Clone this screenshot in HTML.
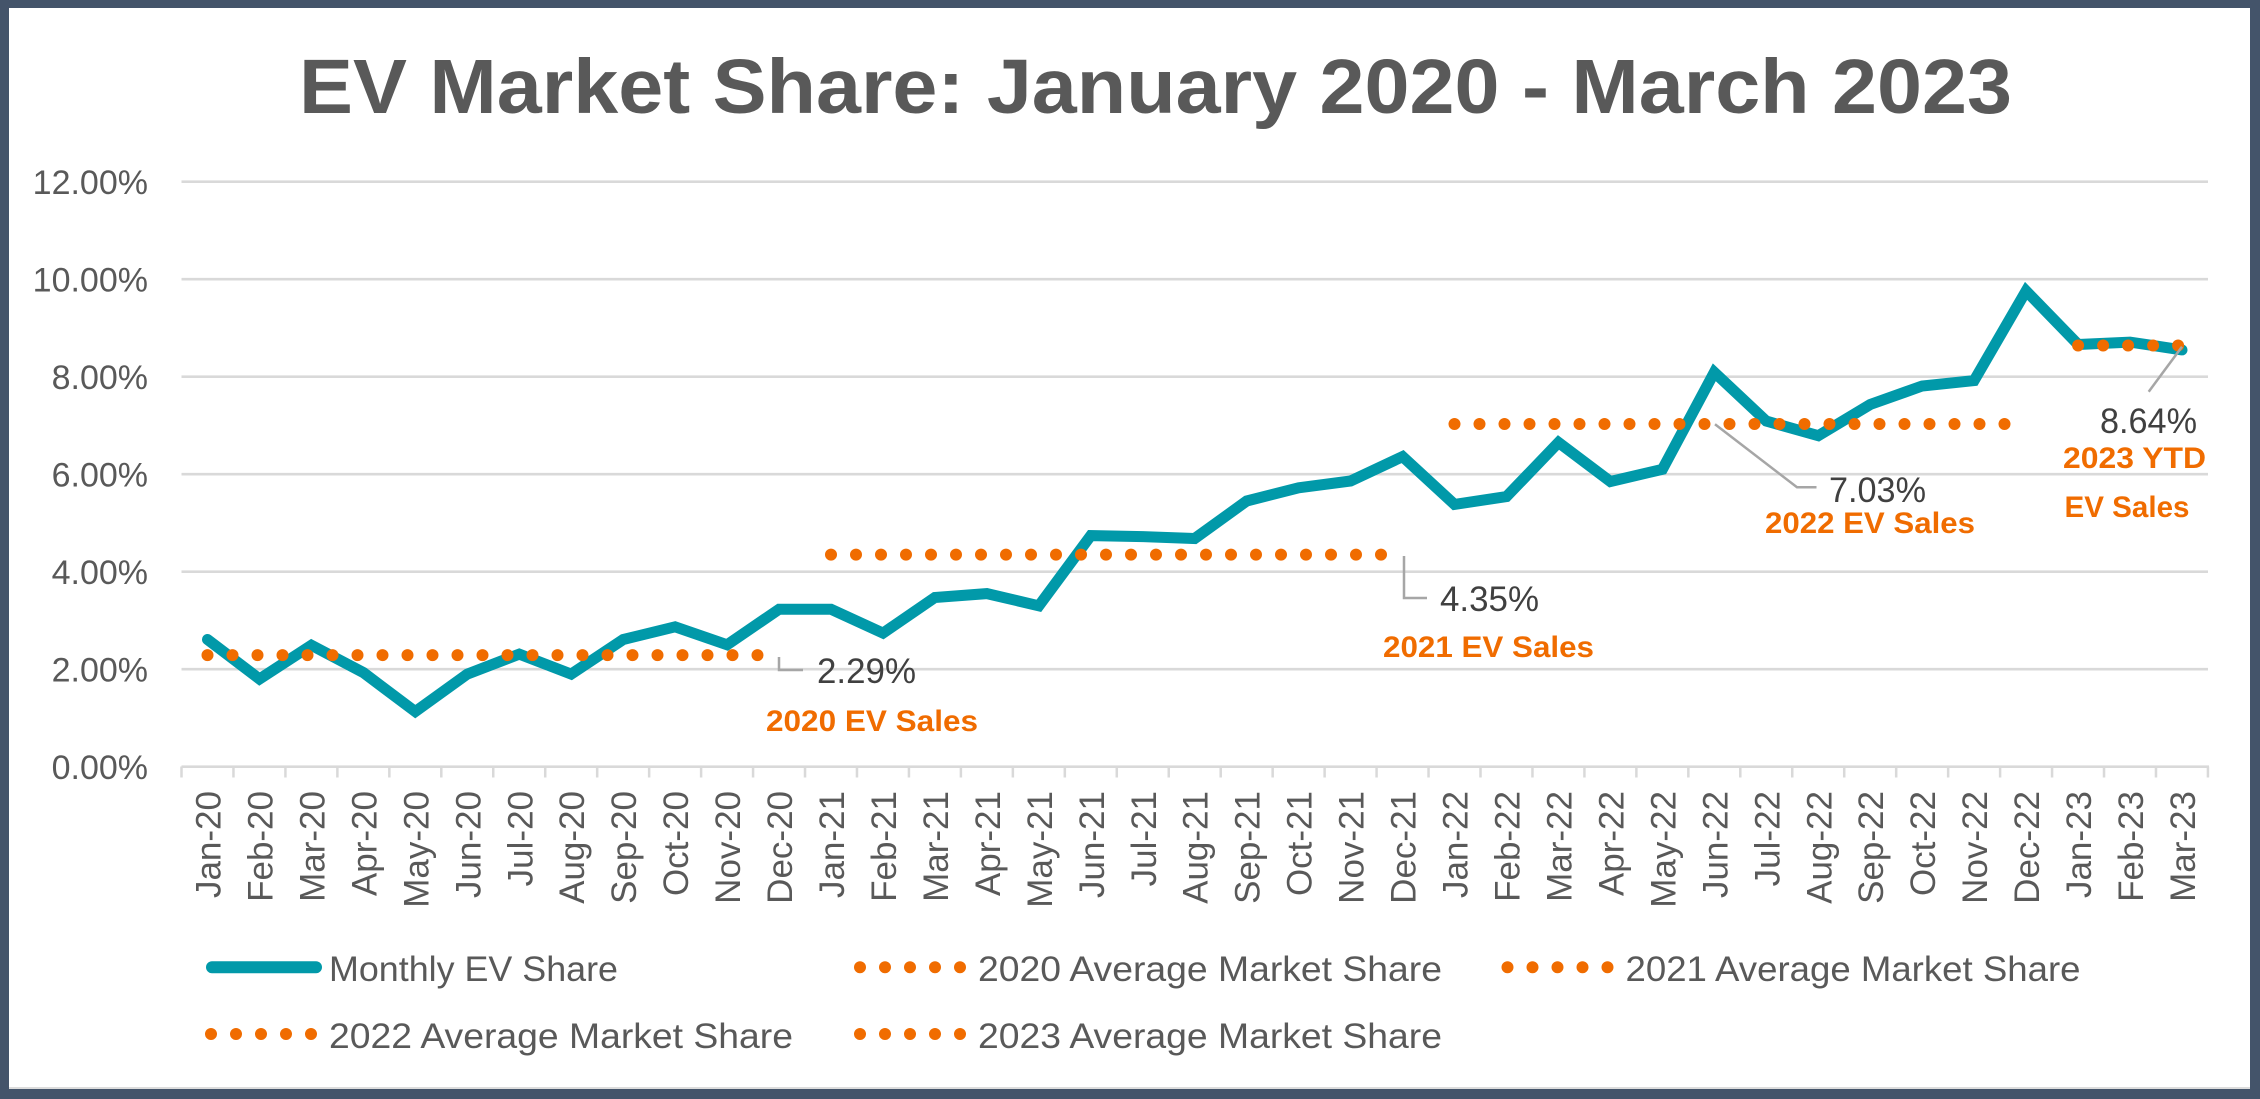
<!DOCTYPE html>
<html>
<head>
<meta charset="utf-8">
<style>
  html,body{margin:0;padding:0;background:#fff;}
  svg{display:block;}
  .ax{font-family:"Liberation Sans",Arial,sans-serif;font-size:35px;fill:#595959;}
  .yl{font-family:"Liberation Sans",Arial,sans-serif;font-size:34px;fill:#595959;}
  .val{font-family:"Liberation Sans",Arial,sans-serif;font-size:35px;fill:#404040;}
  .ann{font-family:"Liberation Sans",Arial,sans-serif;font-size:30px;font-weight:bold;fill:#F06C00;}
  .lg{font-family:"Liberation Sans",Arial,sans-serif;font-size:35px;fill:#595959;}
</style>
</head>
<body>
<svg width="2260" height="1099" viewBox="0 0 2260 1099" xmlns="http://www.w3.org/2000/svg">
  <rect x="0" y="0" width="2260" height="1099" fill="#44546A"/>
  <rect x="9" y="8" width="2241" height="1081" fill="#ffffff"/>
  <line x1="9" y1="1088" x2="2250" y2="1088" stroke="#d0d0d0" stroke-width="1.5"/>

  <!-- Title -->
  <text x="299" y="113" font-family="Liberation Sans, Arial, sans-serif" font-weight="bold" font-size="77" fill="#595959" textLength="1713" lengthAdjust="spacingAndGlyphs">EV Market Share: January 2020 - March 2023</text>

  <!-- Gridlines -->
  <g stroke="#D9D9D9" stroke-width="2.7">
    <line x1="181.5" y1="181.7" x2="2208" y2="181.7"/>
    <line x1="181.5" y1="279.2" x2="2208" y2="279.2"/>
    <line x1="181.5" y1="376.7" x2="2208" y2="376.7"/>
    <line x1="181.5" y1="474.2" x2="2208" y2="474.2"/>
    <line x1="181.5" y1="571.7" x2="2208" y2="571.7"/>
    <line x1="181.5" y1="669.2" x2="2208" y2="669.2"/>
    <line x1="181.5" y1="766.7" x2="2209" y2="766.7"/>
  </g>
  <!-- ticks -->
  <line x1="180.25" y1="772" x2="2210" y2="772" stroke="#D9D9D9" stroke-width="11" stroke-dasharray="2.5 49.46"/>

  <!-- Y labels -->
  <g class="yl" text-anchor="end">
    <text x="148" y="194">12.00%</text>
    <text x="148" y="291.5">10.00%</text>
    <text x="148" y="389">8.00%</text>
    <text x="148" y="486.5">6.00%</text>
    <text x="148" y="584">4.00%</text>
    <text x="148" y="681.5">2.00%</text>
    <text x="148" y="779">0.00%</text>
  </g>

  <!-- X labels -->
  <g class="ax" text-anchor="end">
    <text transform="translate(220.5,791) rotate(-90)">Jan-20</text>
    <text transform="translate(272.5,791) rotate(-90)">Feb-20</text>
    <text transform="translate(324.4,791) rotate(-90)">Mar-20</text>
    <text transform="translate(376.4,791) rotate(-90)">Apr-20</text>
    <text transform="translate(428.3,791) rotate(-90)">May-20</text>
    <text transform="translate(480.3,791) rotate(-90)">Jun-20</text>
    <text transform="translate(532.3,791) rotate(-90)">Jul-20</text>
    <text transform="translate(584.2,791) rotate(-90)">Aug-20</text>
    <text transform="translate(636.2,791) rotate(-90)">Sep-20</text>
    <text transform="translate(688.1,791) rotate(-90)">Oct-20</text>
    <text transform="translate(740.1,791) rotate(-90)">Nov-20</text>
    <text transform="translate(792.1,791) rotate(-90)">Dec-20</text>
    <text transform="translate(844.0,791) rotate(-90)">Jan-21</text>
    <text transform="translate(896.0,791) rotate(-90)">Feb-21</text>
    <text transform="translate(947.9,791) rotate(-90)">Mar-21</text>
    <text transform="translate(999.9,791) rotate(-90)">Apr-21</text>
    <text transform="translate(1051.9,791) rotate(-90)">May-21</text>
    <text transform="translate(1103.8,791) rotate(-90)">Jun-21</text>
    <text transform="translate(1155.8,791) rotate(-90)">Jul-21</text>
    <text transform="translate(1207.7,791) rotate(-90)">Aug-21</text>
    <text transform="translate(1259.7,791) rotate(-90)">Sep-21</text>
    <text transform="translate(1311.7,791) rotate(-90)">Oct-21</text>
    <text transform="translate(1363.6,791) rotate(-90)">Nov-21</text>
    <text transform="translate(1415.6,791) rotate(-90)">Dec-21</text>
    <text transform="translate(1467.5,791) rotate(-90)">Jan-22</text>
    <text transform="translate(1519.5,791) rotate(-90)">Feb-22</text>
    <text transform="translate(1571.5,791) rotate(-90)">Mar-22</text>
    <text transform="translate(1623.4,791) rotate(-90)">Apr-22</text>
    <text transform="translate(1675.4,791) rotate(-90)">May-22</text>
    <text transform="translate(1727.3,791) rotate(-90)">Jun-22</text>
    <text transform="translate(1779.3,791) rotate(-90)">Jul-22</text>
    <text transform="translate(1831.3,791) rotate(-90)">Aug-22</text>
    <text transform="translate(1883.2,791) rotate(-90)">Sep-22</text>
    <text transform="translate(1935.2,791) rotate(-90)">Oct-22</text>
    <text transform="translate(1987.1,791) rotate(-90)">Nov-22</text>
    <text transform="translate(2039.1,791) rotate(-90)">Dec-22</text>
    <text transform="translate(2091.1,791) rotate(-90)">Jan-23</text>
    <text transform="translate(2143.0,791) rotate(-90)">Feb-23</text>
    <text transform="translate(2195.0,791) rotate(-90)">Mar-23</text>
  </g>

  <!-- Monthly EV Share line -->
  <polyline fill="none" stroke="#0199A9" stroke-width="11" stroke-linecap="round" stroke-linejoin="miter" stroke-miterlimit="10"
    points="207.5,639.5 259.5,679.0 311.4,645.3 363.4,672.6 415.3,711.6 467.3,674.1 519.3,654.1 571.2,674.1 623.2,639.5 675.1,626.8 727.1,644.8 779.1,609.2 831.0,609.2 883.0,633.1 934.9,597.5 986.9,593.6 1038.9,605.8 1090.8,535.6 1142.8,536.6 1194.7,538.5 1246.7,501.0 1298.7,487.8 1350.6,481.0 1402.6,456.6 1454.5,504.4 1506.5,496.6 1558.5,442.5 1610.4,481.5 1662.4,469.3 1714.3,372.3 1766.3,421.1 1818.3,435.7 1870.2,404.5 1922.2,386.0 1974.1,380.6 2026.1,290.9 2078.1,344.5 2130.0,342.1 2182.0,349.9"/>

  <!-- Average dotted lines -->
  <g stroke="#F06C00" stroke-width="12" stroke-linecap="round" stroke-dasharray="0 25" fill="none">
    <line x1="207.5" y1="655.1" x2="779.1" y2="655.1"/>
    <line x1="831.0" y1="554.6" x2="1402.6" y2="554.6"/>
    <line x1="1454.5" y1="424.0" x2="2026.1" y2="424.0"/>
    <line x1="2078.1" y1="345.5" x2="2182.5" y2="345.5"/>
  </g>

  <!-- Leader lines -->
  <g stroke="#A6A6A6" stroke-width="2.5" fill="none">
    <polyline points="779,657 779,670 803,670"/>
    <polyline points="1404,556 1404,598 1427,598"/>
    <polyline points="1715,424.3 1797,487.3 1816.5,487.3"/>
    <polyline points="2182,346.7 2148.7,391.7"/>
  </g>

  <!-- Annotations -->
  <text class="val" x="817" y="683" textLength="99" lengthAdjust="spacingAndGlyphs">2.29%</text>
  <text class="ann" x="766" y="731" textLength="212" lengthAdjust="spacingAndGlyphs">2020 EV Sales</text>

  <text class="val" x="1440" y="611" textLength="99" lengthAdjust="spacingAndGlyphs">4.35%</text>
  <text class="ann" x="1383" y="657" textLength="211" lengthAdjust="spacingAndGlyphs">2021 EV Sales</text>

  <text class="val" x="1829" y="502" textLength="97" lengthAdjust="spacingAndGlyphs">7.03%</text>
  <text class="ann" x="1765" y="533" textLength="210" lengthAdjust="spacingAndGlyphs">2022 EV Sales</text>

  <text class="val" x="2100" y="433" textLength="97" lengthAdjust="spacingAndGlyphs">8.64%</text>
  <text class="ann" x="2063" y="468" textLength="143" lengthAdjust="spacingAndGlyphs">2023 YTD</text>
  <text class="ann" x="2064.5" y="517" textLength="125" lengthAdjust="spacingAndGlyphs">EV Sales</text>

  <!-- Legend -->
  <line x1="212" y1="967.3" x2="316" y2="967.3" stroke="#0199A9" stroke-width="12" stroke-linecap="round"/>
  <text class="lg" x="329" y="981" textLength="289" lengthAdjust="spacingAndGlyphs">Monthly EV Share</text>

  <g stroke="#F06C00" stroke-width="12" stroke-linecap="round" stroke-dasharray="0 25" fill="none">
    <line x1="860" y1="967.3" x2="961" y2="967.3"/>
    <line x1="1507.5" y1="967.3" x2="1608.5" y2="967.3"/>
    <line x1="211" y1="1034" x2="312" y2="1034"/>
    <line x1="860" y1="1034" x2="961" y2="1034"/>
  </g>
  <text class="lg" x="978" y="981" textLength="464" lengthAdjust="spacingAndGlyphs">2020 Average Market Share</text>
  <text class="lg" x="1625.5" y="981" textLength="455" lengthAdjust="spacingAndGlyphs">2021 Average Market Share</text>
  <text class="lg" x="329" y="1048" textLength="464" lengthAdjust="spacingAndGlyphs">2022 Average Market Share</text>
  <text class="lg" x="978" y="1048" textLength="464" lengthAdjust="spacingAndGlyphs">2023 Average Market Share</text>
</svg>
</body>
</html>
